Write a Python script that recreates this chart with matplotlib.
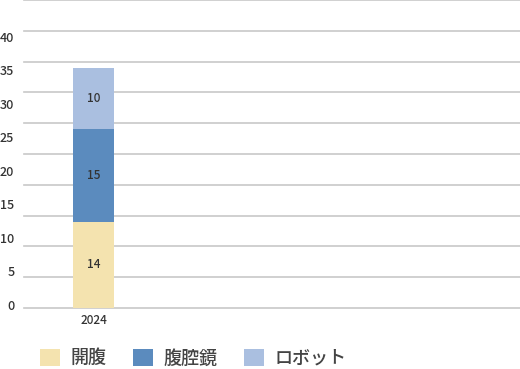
import numpy as np
import matplotlib.pyplot as plt
from matplotlib.patches import Patch

plt.rcParams['font.family'] = ['Noto Sans CJK JP', 'DejaVu Sans']

# data
years = ['2024']
open_surg = [14]
lap = [15]
robot = [10]
series_names = ['開腹', '腹腔鏡', 'ロボット']
colors = ['#F4E3AF', '#5B8BBE', '#AABFE0']
label_ticks = [0, 5, 10, 15, 20, 25, 30, 35, 40]

fig = plt.figure(figsize=(5.2, 3.69), dpi=100)
ax = fig.add_axes([24 / 520, 1 - 308 / 369, 1 - 24 / 520, 308 / 369])

x = np.arange(len(years))
w = 0.6
bottoms = np.zeros(len(years))
for vals, c in zip([open_surg, lap, robot], colors):
    bars = ax.bar(x, vals, w, bottom=bottoms, color=c, zorder=3)
    ax.bar_label(bars, labels=[str(v) for v in vals], label_type='center',
                 fontsize=8.5, color='#333333', fontweight='medium')
    bottoms += np.array(vals)

ax.set_xlim(-1.02, 6.23)
ax.set_ylim(0, 50)
ax.set_yticks(np.arange(0, 51, 5))
ax.yaxis.grid(True, color='#c8c8c8', linewidth=1.2, zorder=0)
for gl in ax.get_ygridlines():
    gl.set_clip_on(False)
ax.set_xticks(x)
ax.set_xticklabels(years, fontweight='medium')
for s in ax.spines.values():
    s.set_visible(False)

# left-hand value labels (offset from the gridlines, as in the original)
ax2 = ax.twinx()
ax2.set_ylim(-0.45, 45.52)
ax2.set_yticks(label_ticks)
ax2.tick_params(axis='y', which='both', left=False, right=False,
                labelleft=True, labelright=False, length=0, pad=7,
                labelsize=9, labelcolor='#333333')
for t in ax2.get_yticklabels():
    t.set_fontweight('medium')
for s in ax2.spines.values():
    s.set_visible(False)

# twinx turns the left ticks of the main axes back on
ax.tick_params(axis='y', which='both', left=False, right=False,
               labelleft=False, labelright=False)
ax.tick_params(axis='x', length=0, pad=4, labelsize=8.5, labelcolor='#333333')

handles = [Patch(facecolor=c, edgecolor='none') for c in colors]
fig.legend(handles, series_names, loc='center left',
           bbox_to_anchor=(40 / 520, 1 - 358 / 369), ncol=3, frameon=False,
           handlelength=1.1, handleheight=1.1, handletextpad=0.6,
           columnspacing=1.45, borderpad=0, borderaxespad=0,
           labelcolor='#444444', prop={'size': 13, 'weight': 'medium'})

fig.savefig('out.png', dpi=100)
